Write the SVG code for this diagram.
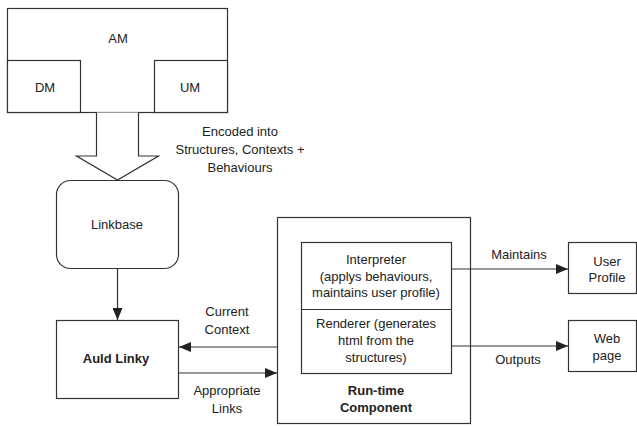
<svg xmlns="http://www.w3.org/2000/svg" width="637" height="426" viewBox="0 0 637 426">
<defs>
<marker id="arr" markerWidth="12" markerHeight="10" refX="12" refY="5" orient="auto" markerUnits="userSpaceOnUse">
<path d="M0,0 L12,5 L0,10 Z" fill="#222"/>
</marker>
</defs>
<style>
.box{fill:#fff;stroke:#333;stroke-width:1.2}
.t{font-family:"Liberation Sans",Arial,sans-serif;font-size:13px;fill:#222;text-anchor:middle}
.b{font-weight:bold}
.ln{stroke:#333;stroke-width:1.2;fill:none}
</style>
<rect width="637" height="426" fill="#fff"/>
<g id="am">
<rect class="box" x="7.5" y="8.5" width="220" height="104"/>
<text class="t" x="118" y="43">AM</text>
</g>
<g id="dm">
<rect class="box" x="7.5" y="60.5" width="73" height="52"/>
<text class="t" x="45" y="92">DM</text>
</g>
<g id="um">
<rect class="box" x="154.5" y="60.5" width="73" height="52"/>
<text class="t" x="190" y="92">UM</text>
</g>
<g id="encode-arrow">
<path class="box" d="M96.5,112.5 V156 H76.5 L117.5,180 L158.5,156 H138.5 V112.5"/>
<text class="t" x="240" y="136">Encoded into</text>
<text class="t" x="240" y="154">Structures, Contexts +</text>
<text class="t" x="240" y="172">Behaviours</text>
</g>
<g id="linkbase">
<rect class="box" x="56.5" y="180.5" width="122" height="88" rx="14" ry="14"/>
<text class="t" x="117" y="229">Linkbase</text>
</g>
<g id="auld-linky">
<rect class="box" x="56.5" y="320.5" width="122" height="78"/>
<text class="t b" x="116" y="363">Auld Linky</text>
</g>
<g id="runtime">
<rect class="box" x="277.5" y="217.5" width="193" height="206"/>
<rect class="box" x="301.5" y="242.5" width="150" height="131"/>
<line class="ln" x1="301.5" y1="309.5" x2="451.5" y2="309.5"/>
<text class="t" x="376" y="264">Interpreter</text>
<text class="t" x="376" y="281">(applys behaviours,</text>
<text class="t" x="376" y="297">maintains user profile)</text>
<text class="t" x="376" y="328">Renderer (generates</text>
<text class="t" x="376" y="345">html from the</text>
<text class="t" x="376" y="362">structures)</text>
<text class="t b" x="376" y="395">Run-time</text>
<text class="t b" x="376" y="412">Component</text>
</g>
<g id="user-profile">
<rect class="box" x="568.5" y="242.5" width="68" height="51"/>
<text class="t" x="607" y="266">User</text>
<text class="t" x="607" y="282">Profile</text>
</g>
<g id="web-page">
<rect class="box" x="568.5" y="320.5" width="68" height="51"/>
<text class="t" x="607" y="343">Web</text>
<text class="t" x="607" y="360">page</text>
</g>
<g id="connectors">
<line class="ln" x1="117.5" y1="268.5" x2="117.5" y2="320" marker-end="url(#arr)"/>
<line class="ln" x1="277.5" y1="347" x2="179" y2="347" marker-end="url(#arr)"/>
<line class="ln" x1="178.5" y1="373" x2="277" y2="373" marker-end="url(#arr)"/>
<line class="ln" x1="451.5" y1="269" x2="568" y2="269" marker-end="url(#arr)"/>
<line class="ln" x1="451.5" y1="346" x2="568" y2="346" marker-end="url(#arr)"/>
<text class="t" x="227" y="316">Current</text>
<text class="t" x="227" y="334">Context</text>
<text class="t" x="227" y="395">Appropriate</text>
<text class="t" x="227" y="413">Links</text>
<text class="t" x="519" y="259">Maintains</text>
<text class="t" x="518" y="364">Outputs</text>
</g>
</svg>
